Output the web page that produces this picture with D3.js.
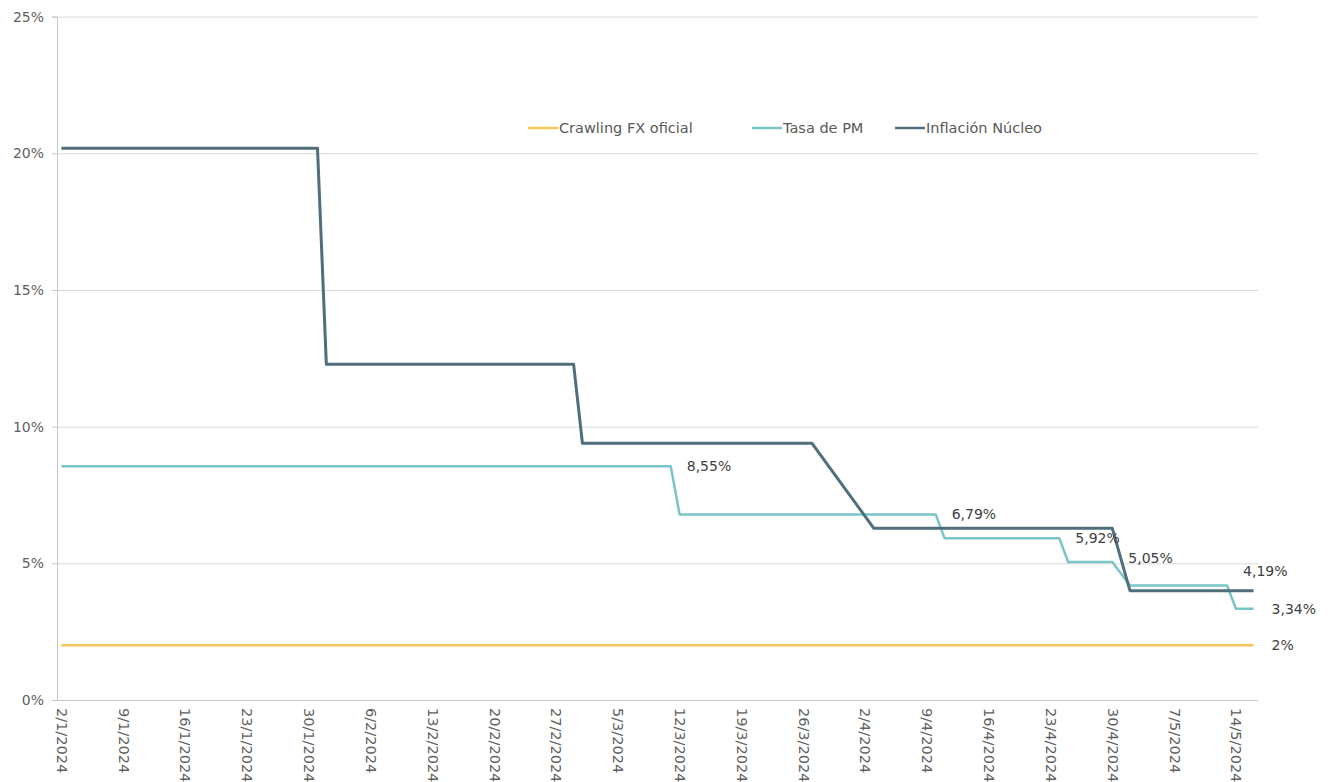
<!DOCTYPE html>
<html>
<head>
<meta charset="utf-8">
<script src="https://cdn.jsdelivr.net/npm/d3@7"></script>
<style>
  html, body { margin: 0; padding: 0; background: #fff; }
  svg { display: block; font-family: "DejaVu Sans", sans-serif; }
</style>
</head>
<body>
<svg id="chart" width="1332" height="782"></svg>
<script>
// ---- data ----
const seriesNames = ["Crawling FX oficial", "Tasa de PM", "Inflación Núcleo"];

const crawlingDates = ["2024-01-02", "2024-05-16"];
const crawlingValues = [2, 2];

const tasaDates = ["2024-01-02", "2024-03-11", "2024-03-12", "2024-04-10", "2024-04-11",
                   "2024-04-24", "2024-04-25", "2024-04-30", "2024-05-02", "2024-05-13",
                   "2024-05-14", "2024-05-16"];
const tasaValues = [8.55, 8.55, 6.79, 6.79, 5.92, 5.92, 5.05, 5.05, 4.19, 4.19, 3.34, 3.34];

const nucleoDates = ["2024-01-02", "2024-01-31", "2024-02-01", "2024-02-29", "2024-03-01",
                     "2024-03-27", "2024-04-03", "2024-04-30", "2024-05-02", "2024-05-16"];
const nucleoValues = [20.18, 20.18, 12.28, 12.28, 9.39, 9.39, 6.28, 6.28, 4.0, 4.0];

const yTickValues = [0, 5, 10, 15, 20, 25];
const xTickLabels = ["2/1/2024", "9/1/2024", "16/1/2024", "23/1/2024", "30/1/2024",
                     "6/2/2024", "13/2/2024", "20/2/2024", "27/2/2024", "5/3/2024",
                     "12/3/2024", "19/3/2024", "26/3/2024", "2/4/2024", "9/4/2024",
                     "16/4/2024", "23/4/2024", "30/4/2024", "7/5/2024", "14/5/2024"];

// ---- setup ----
const parseISO = d3.utcParse("%Y-%m-%d");
const parseTick = d3.utcParse("%d/%m/%Y");
const fmtComma = v => String(v).replace(".", ",") + "%";

const svg = d3.select("#chart");
const plot = { left: 57, right: 1258, top: 16.6, bottom: 700 };

// each day occupies one slot; points sit at the slot centre
const half = 12 * 3600 * 1000;
const x = d3.scaleUtc()
  .domain([new Date(parseISO("2024-01-02") - half), new Date(+parseISO("2024-05-16") + half)])
  .range([plot.left, plot.right]);
const y = d3.scaleLinear().domain([0, 25]).range([plot.bottom, plot.top]);

const colors = { crawling: "#f1c859", tasa: "#7ac5c7", nucleo: "#4f6f7d" };

// ---- grid ----
svg.append("g")
  .attr("transform", `translate(${plot.left},0)`)
  .call(d3.axisLeft(y).tickValues(yTickValues.filter(v => v > 0))
        .tickSize(-(plot.right - plot.left)).tickFormat(""))
  .call(g => g.select(".domain").remove())
  .call(g => g.selectAll("line").attr("stroke", "#d9d9d9").attr("stroke-width", 1));

// ---- y axis ----
svg.append("g")
  .attr("transform", `translate(${plot.left},0)`)
  .call(d3.axisLeft(y).tickValues(yTickValues).tickSize(5).tickPadding(8)
        .tickFormat(d => d + "%"))
  .call(g => g.select(".domain").attr("stroke", "#c8c8c8"))
  .call(g => g.selectAll("line").attr("stroke", "#c8c8c8"))
  .call(g => g.selectAll("text").attr("fill", "#5f5f5f")
        .style("font-size", "14px").style("font-family", "DejaVu Sans, sans-serif"));

// ---- x axis ----
svg.append("g")
  .attr("transform", `translate(0,${plot.bottom})`)
  .call(d3.axisBottom(x).tickValues(xTickLabels.map(parseTick)).tickSize(0)
        .tickFormat((d, i) => xTickLabels[i]))
  .call(g => g.select(".domain").attr("stroke", "#c8c8c8")
        .attr("d", `M${plot.left},0.5H${plot.right}`))
  .call(g => g.selectAll("text")
        .attr("fill", "#5f5f5f")
        .style("font-size", "14.5px").style("font-family", "DejaVu Sans, sans-serif")
        .attr("text-anchor", "start")
        .attr("transform", "rotate(90)")
        .attr("x", 8).attr("y", 0).attr("dy", "0.35em"));

// ---- lines ----
const line = d3.line().x(d => x(d.date)).y(d => y(d.value));
const zipSeries = (dates, values) => dates.map((d, i) => ({ date: parseISO(d), value: values[i] }));

const crawling = zipSeries(crawlingDates, crawlingValues);
const tasa = zipSeries(tasaDates, tasaValues);
const nucleo = zipSeries(nucleoDates, nucleoValues);

svg.append("path").datum(crawling).attr("d", line)
  .attr("fill", "none").attr("stroke", colors.crawling).attr("stroke-width", 2.5);
svg.append("path").datum(tasa).attr("d", line)
  .attr("fill", "none").attr("stroke", colors.tasa).attr("stroke-width", 2.5)
  .attr("stroke-linejoin", "round");
svg.append("path").datum(nucleo).attr("d", line)
  .attr("fill", "none").attr("stroke", colors.nucleo).attr("stroke-width", 3)
  .attr("stroke-linejoin", "round");

// ---- value labels ----
// label each policy-rate level at the last day before it changes
const labels = [];
tasa.forEach((p, i) => {
  const next = tasa[i + 1];
  if (next && next.value !== p.value) labels.push({ p, dx: 16, dy: 0 });
});
// small nudges where labels would collide with the lines
const nudges = { "5.05": -4, "4.19": -14 };
labels.forEach(l => { l.dy = nudges[String(l.p.value)] || 0; });
labels.push({ p: tasa[tasa.length - 1], dx: 18, dy: 0 });
labels.push({ p: crawling[crawling.length - 1], dx: 18, dy: 0 });

svg.append("g").selectAll("text").data(labels).join("text")
  .attr("x", d => x(d.p.date) + d.dx)
  .attr("y", d => y(d.p.value) + d.dy)
  .attr("dy", "0.35em")
  .attr("fill", "#404040")
  .style("font-size", "14px")
  .text(d => fmtComma(d.p.value));

// ---- legend ----
const legendItems = [
  { name: seriesNames[0], color: colors.crawling, x: 528 },
  { name: seriesNames[1], color: colors.tasa, x: 752 },
  { name: seriesNames[2], color: colors.nucleo, x: 895 }
];
const lg = svg.append("g").attr("transform", "translate(0,128)");
const li = lg.selectAll("g").data(legendItems).join("g")
  .attr("transform", d => `translate(${d.x},0)`);
li.append("line").attr("x1", 0).attr("x2", 30).attr("y1", 0).attr("y2", 0)
  .attr("stroke", d => d.color).attr("stroke-width", 2.5);
li.append("text").attr("x", 31).attr("dy", "0.35em")
  .attr("fill", "#595959").style("font-size", "14.5px")
  .text(d => d.name);
</script>
</body>
</html>
